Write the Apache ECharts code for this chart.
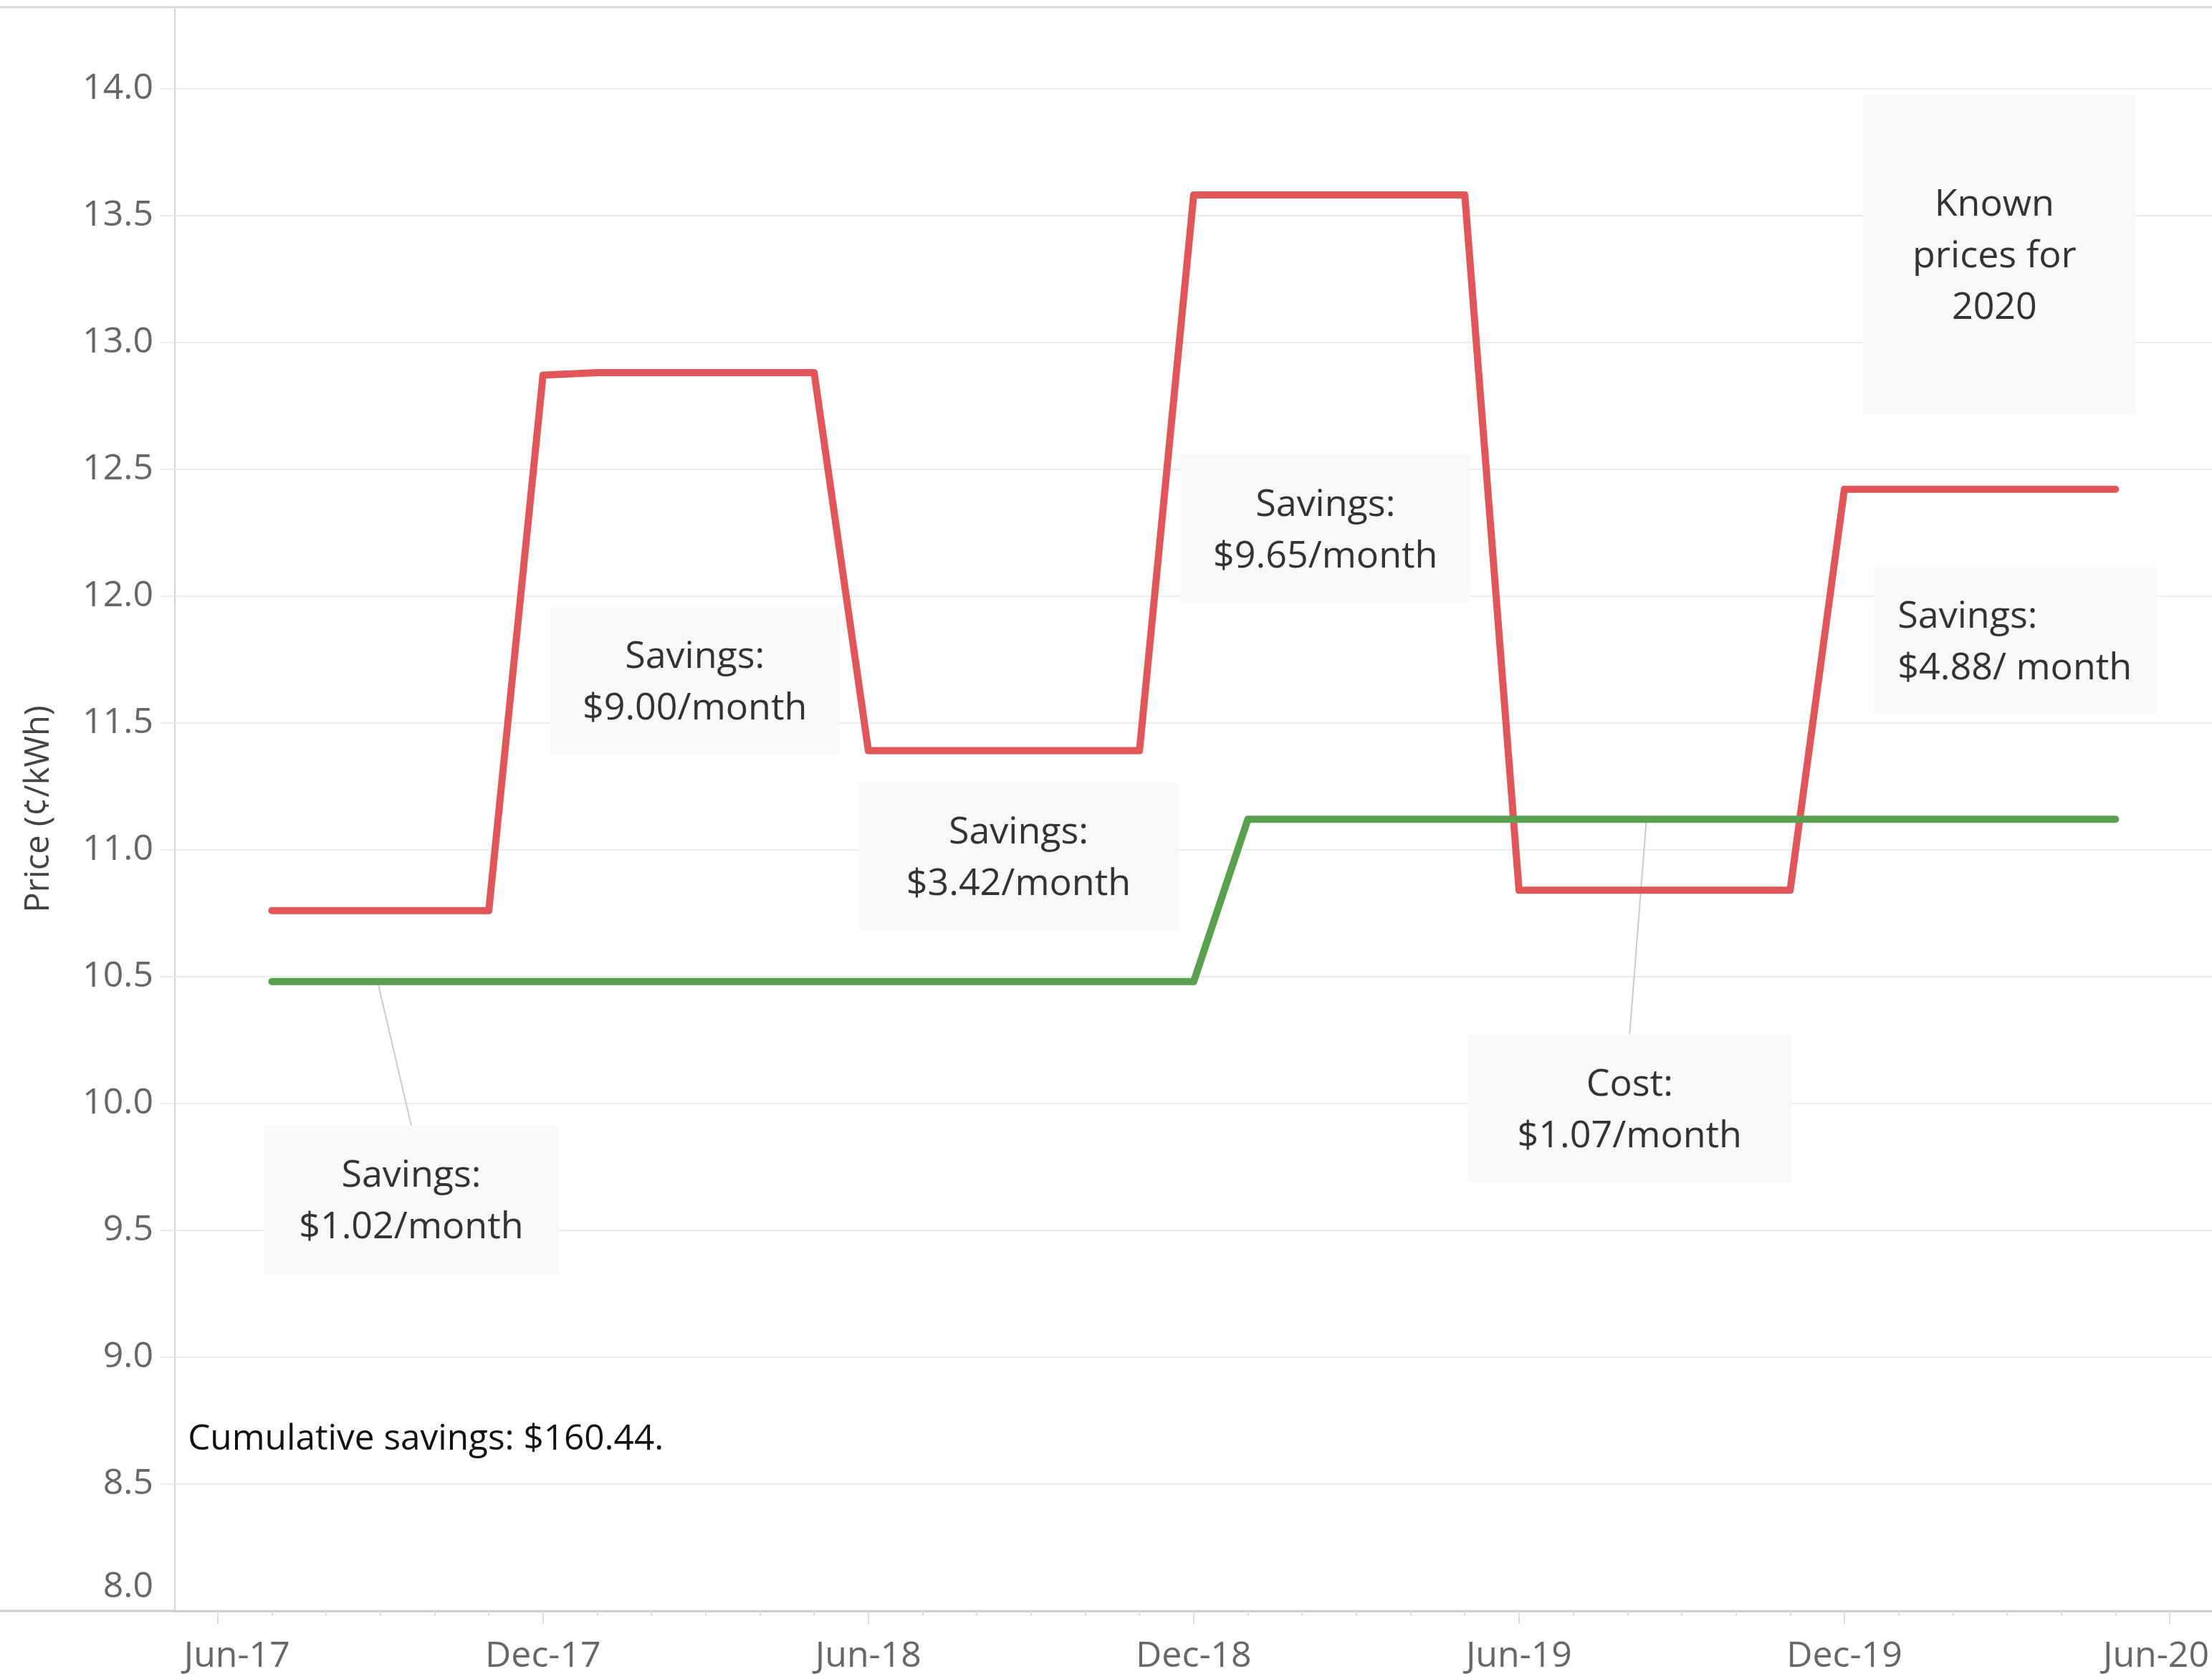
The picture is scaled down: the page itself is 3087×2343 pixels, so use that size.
<!DOCTYPE html>
<html>
<head>
<meta charset="utf-8">
<script src="https://cdn.jsdelivr.net/npm/echarts@6/dist/echarts.min.js"></script>
<style>
html,body{margin:0;padding:0;background:#ffffff;}
#chart{width:3087px;height:2343px;}
</style>
</head>
<body>
<div id="chart"></div>
<script>
// ---------------- data ----------------
const months = ['Jul-17','Aug-17','Sep-17','Oct-17','Nov-17','Dec-17',
  'Jan-18','Feb-18','Mar-18','Apr-18','May-18','Jun-18','Jul-18','Aug-18','Sep-18','Oct-18','Nov-18','Dec-18',
  'Jan-19','Feb-19','Mar-19','Apr-19','May-19','Jun-19','Jul-19','Aug-19','Sep-19','Oct-19','Nov-19','Dec-19',
  'Jan-20','Feb-20','Mar-20','Apr-20','May-20'];
// red line (utility price, ¢/kWh)
const utilityPrice = [10.76,10.76,10.76,10.76,10.76,12.87,
  12.88,12.88,12.88,12.88,12.88,11.39,11.39,11.39,11.39,11.39,11.39,13.58,
  13.58,13.58,13.58,13.58,13.58,10.84,10.84,10.84,10.84,10.84,10.84,12.42,
  12.42,12.42,12.42,12.42,12.42];
// green line (contract price, ¢/kWh)
const contractPrice = [10.48,10.48,10.48,10.48,10.48,10.48,
  10.48,10.48,10.48,10.48,10.48,10.48,10.48,10.48,10.48,10.48,10.48,10.48,
  11.12,11.12,11.12,11.12,11.12,11.12,11.12,11.12,11.12,11.12,11.12,11.12,
  11.12,11.12,11.12,11.12,11.12];
const xTickLabels = ['Jun-17','Dec-17','Jun-18','Dec-18','Jun-19','Dec-19','Jun-20'];
const noteTexts = ['Savings:\n$1.02/month','Savings:\n$9.00/month','Savings:\n$3.42/month',
  'Savings:\n$9.65/month','Savings:\n$4.88/ month','Cost:\n$1.07/month','Known\nprices for\n2020'];
const footText = 'Cumulative savings: $160.44.';

// ---------------- helpers ----------------
const MON = ['Jan','Feb','Mar','Apr','May','Jun','Jul','Aug','Sep','Oct','Nov','Dec'];
function monthIndex(lbl){ // months since Jan-2017
  const p = lbl.split('-');
  return (2000 + parseInt(p[1],10) - 2017) * 12 + MON.indexOf(p[0]);
}
const xs = months.map(monthIndex);
const majorVals = xTickLabels.map(monthIndex);
const minorVals = [];
for (let m = majorVals[0]; m <= majorVals[majorVals.length-1]; m++) minorVals.push(m);

const FONT = '"Open Sans", "Noto Sans", sans-serif';
const X_MIN = 4.21, X_MAX = 41.78;

const chart = echarts.init(document.getElementById('chart'), null, {renderer:'canvas'});

const option = {
  animation: false,
  backgroundColor: '#ffffff',
  grid: {left: 244, right: 0, top: 10, bottom: 95, containLabel: false, outerBoundsMode: 'none'},
  xAxis: [{
    type: 'value',
    position: 'bottom',
    min: X_MIN, max: X_MAX,
    splitLine: {show: false},
    axisLine: {show: true, onZero: false, lineStyle: {color: '#cdcdcd', width: 3}},
    axisTick: {show: true, customValues: majorVals, length: 18, lineStyle: {color: '#dcdcdc', width: 2}},
    axisLabel: {
      show: true, customValues: majorVals, margin: 39,
      fontFamily: FONT, fontSize: 50, color: '#676767',
      formatter: function(v){
        const i = majorVals.indexOf(Math.round(v));
        const t = i >= 0 ? xTickLabels[i] : '';
        if (i === 0) return '{first|' + t + '}';
        if (i === majorVals.length - 1) return '{last|' + t + '}';
        return t;
      },
      rich: {
        first: {fontFamily: FONT, fontSize: 50, color: '#676767', padding: [0,0,0,54]},
        last: {fontFamily: FONT, fontSize: 50, color: '#676767', padding: [0,38,0,0]}
      }
    }
  },{
    type: 'value',
    position: 'bottom',
    min: X_MIN, max: X_MAX,
    splitLine: {show: false},
    axisLine: {show: false, onZero: false},
    axisTick: {show: true, customValues: minorVals, length: 7, lineStyle: {color: '#dcdcdc', width: 2}},
    axisLabel: {show: false}
  }],
  yAxis: {
    type: 'value',
    min: 8, max: 14.32, interval: 0.5,
    name: 'Price (¢/kWh)',
    nameLocation: 'middle',
    nameGap: 166,
    nameRotate: 90,
    nameTextStyle: {fontFamily: FONT, fontSize: 47, color: '#444444'},
    axisLine: {show: true, lineStyle: {color: '#d6d6d6', width: 2}},
    axisTick: {show: true, length: 20, lineStyle: {color: '#ececec', width: 2}},
    splitLine: {show: true, lineStyle: {color: '#ececec', width: 2}},
    axisLabel: {
      showMaxLabel: false,
      margin: 30,
      fontFamily: FONT, fontSize: 50, color: '#676767',
      formatter: function(v){
        if (Math.abs(v - 8) < 1e-6) return '{lo|8.0}';
        return v.toFixed(1);
      },
      rich: {lo: {fontFamily: FONT, fontSize: 50, color: '#676767', padding: [0,0,66,0]}}
    }
  },
  series: [{
    name: 'Utility', type: 'line', xAxisIndex: 0,
    data: xs.map((x,i)=>[x, utilityPrice[i]]),
    symbol: 'none', z: 3,
    lineStyle: {color: '#e15759', width: 10, cap: 'round', join: 'round'}
  },{
    name: 'Contract', type: 'line', xAxisIndex: 0,
    data: xs.map((x,i)=>[x, contractPrice[i]]),
    symbol: 'none', z: 3,
    lineStyle: {color: '#59a14f', width: 10, cap: 'round', join: 'round'}
  }]
};
chart.setOption(option);

// ---------------- annotations (anchored in data coordinates) ----------------
const noteLayout = [
  {x: 8.57,  y: 9.62,   w: 412, h: 207, lead: [7.95, 10.48]},
  {x: 13.80, y: 11.665, w: 404, h: 206},
  {x: 19.77, y: 10.974, w: 445, h: 207},
  {x: 25.43, y: 12.265, w: 404, h: 207},
  {x: 38.15, y: 11.824, w: 394, h: 205, align: 'left', pad: 33},
  {x: 31.04, y: 9.98,   w: 452, h: 207, lead: [31.35, 11.12]},
  {x: 37.86, y: 13.346, w: 380, h: 445, dx: -7}
];
const P = (x,y) => chart.convertToPixel({gridIndex: 0}, [x, y]);
const graphics = [];
// full-width frame lines
graphics.push({type:'line', z: 1, shape:{x1:0, y1:10, x2:3087, y2:10}, style:{stroke:'#dadada', lineWidth:3}, silent:true});
graphics.push({type:'line', z: 1, shape:{x1:0, y1:2248, x2:244, y2:2248}, style:{stroke:'#cdcdcd', lineWidth:3}, silent:true});

noteLayout.forEach((n, i) => {
  const c = P(n.x, n.y);
  const left = c[0] - n.w/2, top = c[1] - n.h/2;
  if (n.lead) {
    const a = P(n.lead[0], n.lead[1]);
    graphics.push({type:'line', z: 2, shape:{x1:a[0], y1:a[1], x2:c[0], y2:top},
      style:{stroke:'#cbcbcb', lineWidth:2}, silent:true});
  }
  graphics.push({type:'rect', z: 4, shape:{x:left, y:top, width:n.w, height:n.h},
    style:{fill:'#f8f8f8'}, silent:true});
  const isLeft = n.align === 'left';
  graphics.push({type:'text', z: 5, silent:true,
    style:{
      text: noteTexts[i],
      x: isLeft ? left + n.pad : c[0] + (n.dx || 0), y: c[1] + 3,
      align: isLeft ? 'left' : 'center', textAlign: isLeft ? 'left' : 'center',
      verticalAlign: 'middle', textVerticalAlign: 'middle',
      font: '52px ' + FONT, lineHeight: 72, fill: '#333333'
    }});
});
const fp = P(4.45, 8.683);
graphics.push({type:'text', z: 5, silent:true,
  style:{text: footText, x: fp[0], y: fp[1] + 3, align:'left', textAlign:'left',
    verticalAlign:'middle', textVerticalAlign:'middle', font:'49.5px ' + FONT, fill:'#111111'}});

chart.setOption({graphic: graphics});
</script>
</body>
</html>
